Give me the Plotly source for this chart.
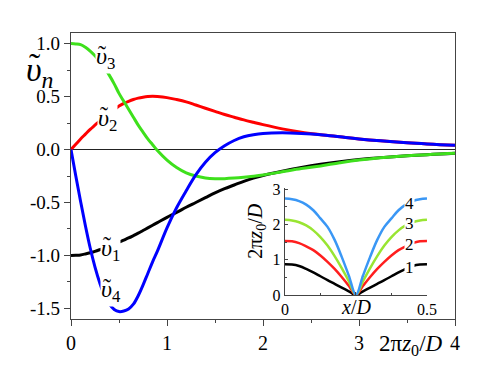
import plotly.graph_objects as go

# main panel: normalised amplitudes vs 2*pi*z0/D
z = [0, 0.05, 0.1, 0.15, 0.2, 0.25, 0.3, 0.35, 0.4, 0.45, 0.5, 0.55, 0.6, 0.65, 0.7, 0.75,
     0.8, 0.85, 0.9, 1.0, 1.1, 1.2, 1.3, 1.4, 1.5, 1.6, 1.7, 1.8, 1.9, 2.0, 2.2, 2.4,
     2.6, 2.8, 3.0, 3.5, 4.0]
v1 = [-1.0, -0.998, -0.995, -0.986, -0.975, -0.961, -0.945, -0.928, -0.91, -0.893, -0.875,
      -0.855, -0.835, -0.813, -0.79, -0.765, -0.74, -0.715, -0.69, -0.64, -0.595, -0.545,
      -0.50, -0.455, -0.41, -0.37, -0.335, -0.30, -0.27, -0.245, -0.205, -0.17,
      -0.14, -0.115, -0.095, -0.06, -0.035]
v2 = [0.0, 0.05, 0.10, 0.145, 0.19, 0.23, 0.27, 0.305, 0.34, 0.375, 0.41, 0.435, 0.455,
      0.472, 0.485, 0.494, 0.50, 0.502, 0.50, 0.49, 0.472, 0.45, 0.42, 0.39, 0.36,
      0.33, 0.305, 0.28, 0.257, 0.235, 0.195, 0.163, 0.14, 0.12, 0.10, 0.065, 0.04]
v3 = [1.0, 0.997, 0.99, 0.965, 0.93, 0.885, 0.83, 0.77, 0.70, 0.62, 0.53, 0.455, 0.38,
      0.305, 0.23, 0.165, 0.10, 0.045, -0.01, -0.10, -0.17, -0.22, -0.25, -0.268,
      -0.275, -0.275, -0.27, -0.262, -0.252, -0.24, -0.21, -0.18, -0.155, -0.125,
      -0.10, -0.06, -0.035]
v4 = [0.0, -0.25, -0.49, -0.72, -0.93, -1.11, -1.26, -1.38, -1.46, -1.51, -1.53, -1.525,
      -1.505, -1.46, -1.38, -1.28, -1.17, -1.06, -0.96, -0.74, -0.55, -0.39, -0.24,
      -0.12, -0.03, 0.035, 0.085, 0.12, 0.14, 0.152, 0.158, 0.152, 0.14, 0.12, 0.10,
      0.065, 0.04]

# inset: 2*pi*z0/D vs x/D for n = 1..4
xd = [0, 0.025, 0.05, 0.075, 0.1, 0.125, 0.15, 0.175, 0.2, 0.225, 0.25,
      0.275, 0.3, 0.325, 0.35, 0.375, 0.4, 0.425, 0.45, 0.475, 0.5]
h1 = [0.87, 0.86, 0.82, 0.74, 0.64, 0.53, 0.42, 0.315, 0.21, 0.105, 0.0,
      0.105, 0.21, 0.315, 0.42, 0.53, 0.64, 0.74, 0.82, 0.86, 0.87]
h2 = [1.53, 1.52, 1.47, 1.38, 1.27, 1.12, 0.94, 0.74, 0.51, 0.26, 0.0,
      0.26, 0.51, 0.74, 0.94, 1.12, 1.27, 1.38, 1.47, 1.52, 1.53]
h3 = [2.13, 2.11, 2.06, 1.97, 1.83, 1.64, 1.40, 1.10, 0.76, 0.39, 0.0,
      0.39, 0.76, 1.10, 1.40, 1.64, 1.83, 1.97, 2.06, 2.11, 2.13]
h4 = [2.73, 2.71, 2.66, 2.56, 2.40, 2.17, 1.93, 1.56, 1.08, 0.55, 0.0,
      0.55, 1.08, 1.56, 1.93, 2.17, 2.40, 2.56, 2.66, 2.71, 2.73]

main_colors = ["black", "#ff0000", "#3ee01c", "#0000ff"]
inset_colors = ["black", "#ff1e1e", "#99e532", "#3a97f5"]
serif = "Liberation Serif, Times New Roman, Times, serif"

fig = go.Figure()
for v, c in zip([v1, v2, v3, v4], main_colors):
    fig.add_trace(go.Scatter(x=z, y=v, mode="lines", line=dict(color=c, width=3, shape="spline"),
                             showlegend=False))
for h, c in zip([h1, h2, h3, h4], inset_colors):
    fig.add_trace(go.Scatter(x=xd, y=h, mode="lines", line=dict(color=c, width=2.5, shape="spline"),
                             xaxis="x2", yaxis="y2", showlegend=False))


def upsilon_label(x, y, sub, size, xref="x", yref="y", bg="white", italic_sub=False):
    s = "<i>%s</i>" % sub if italic_sub else sub
    fig.add_annotation(x=x, y=y, xref=xref, yref=yref, xanchor="left", yanchor="middle",
                       text="<i>\u03c5</i><sub>%s</sub>" % s, showarrow=False, bgcolor=bg,
                       borderpad=0, font=dict(family=serif, size=size, color="black"))
    # tilde drawn on top of the upsilon
    fig.add_annotation(x=x, y=y, xref=xref, yref=yref, xanchor="left", yanchor="middle",
                       xshift=size * 0.1, yshift=size * 0.12,
                       text="\u02dc<sub><span style='color:rgba(0,0,0,0)'>%s</span></sub>" % s,
                       showarrow=False, borderpad=0,
                       font=dict(family=serif, size=size, color="black"))


# curve labels (white box cuts the line like in the original)
for lx, ly, n in [(0.25, 0.86, "3"), (0.27, 0.28, "2"), (0.30, -0.95, "1"), (0.30, -1.34, "4")]:
    upsilon_label(lx, ly, n, 24)
upsilon_label(-0.12, 0.865, "n", 34, "paper", "paper", bg=None, italic_sub=True)

for ly, n in [(2.58, "4"), (2.02, "3"), (1.43, "2"), (0.79, "1")]:
    fig.add_annotation(x=0.44, y=ly, xref="x2", yref="y2", text=n, showarrow=False,
                       bgcolor="white", borderpad=0, font=dict(family=serif, size=17, color="black"))

fig.add_annotation(x=0.885, y=-0.09, xref="paper", yref="paper", xanchor="center", yanchor="middle",
                   text="2\u03c0<i>z</i><sub>0</sub>/<i>D</i>", showarrow=False,
                   font=dict(family=serif, size=23, color="black"))
fig.add_annotation(x=0.742, y=0.042, xref="paper", yref="paper", xanchor="center", yanchor="middle",
                   text="<i>x</i>/<i>D</i>", showarrow=False,
                   font=dict(family=serif, size=20, color="black"))
fig.add_annotation(x=0.484, y=0.308, xref="paper", yref="paper", xanchor="center", yanchor="middle",
                   textangle=-90, text="2\u03c0<i>z</i><sub>0</sub>/<i>D</i>", showarrow=False,
                   font=dict(family=serif, size=20, color="black"))

yt = [-1.5, -1.0, -0.5, 0.0, 0.5, 1.0]
fig.update_layout(
    width=483, height=377,
    margin=dict(l=63, r=36, t=25, b=66),
    plot_bgcolor="white", paper_bgcolor="white",
    font=dict(family=serif, size=18, color="black"),
    xaxis=dict(range=[0, 4], domain=[0, 1], tickvals=[0, 1, 2, 3, 4], ticks="outside", ticklen=6,
               showline=True, mirror=True, linecolor="#444", linewidth=1.3, showgrid=False,
               zeroline=False, tickfont=dict(size=20),
               minor=dict(dtick=0.5, ticks="outside", ticklen=3, showgrid=False)),
    yaxis=dict(range=[-1.6, 1.1], domain=[0, 1], tickvals=yt, ticktext=["%.1f" % t for t in yt],
               ticks="outside", ticklen=6, showline=True, mirror=True, linecolor="#444",
               linewidth=1.3, showgrid=False, zeroline=True, zerolinecolor="#222",
               zerolinewidth=1.3, tickfont=dict(size=19),
               minor=dict(dtick=0.25, ticks="outside", ticklen=3, showgrid=False)),
    xaxis2=dict(range=[0, 0.5], domain=[0.557, 0.927], anchor="y2", tickvals=[0, 0.25, 0.5],
                ticktext=["0", "", "0.5"], ticks="inside", ticklen=3, showline=True,
                linecolor="#444", linewidth=1.2, showgrid=False, zeroline=False,
                tickfont=dict(size=16),
                minor=dict(dtick=0.125, ticks="inside", ticklen=2, showgrid=False)),
    yaxis2=dict(range=[0, 3.03], domain=[0.084, 0.458], anchor="x2", tickvals=[0, 1, 2, 3],
                ticks="inside", ticklen=3, showline=True, linecolor="#444", linewidth=1.2,
                showgrid=False, zeroline=False, tickfont=dict(size=16),
                minor=dict(dtick=0.5, ticks="inside", ticklen=2, showgrid=False)),
)

fig.write_html("out.html")
